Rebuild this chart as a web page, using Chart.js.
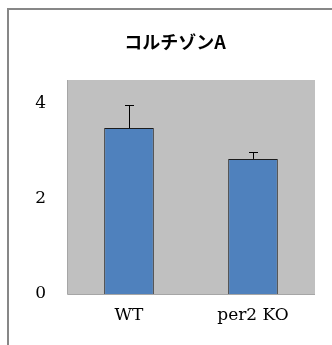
<!DOCTYPE html>
<html lang="ja">
<head>
    <meta charset="UTF-8">
    <title>コルチゾンA</title>
    <style>
        body {
            margin: 0;
            background-color: #ffffff;
        }
        .marco {
            position: absolute;
            left: 0;
            top: 0;
            width: 332px;
            height: 345px;
        }
        .borde {
            position: absolute;
            left: 7px;
            top: 8px;
            width: 325px;
            height: 337px;
            border-top: 2px solid #878787;
            border-left: 2px solid #878787;
        }
        canvas {
            position: absolute;
            left: 0;
            top: 0;
        }
    </style>
    <script src="https://cdn.jsdelivr.net/npm/chart.js"></script>
</head>
<body>
    <div class="marco">
        <div class="borde"></div>
        <canvas id="grafico" width="332" height="345"></canvas>
    </div>
    <script>
        // datos
        const categorias = ['WT', 'per2 KO'];
        const valores = [3.49, 2.84];
        const errores = [0.49, 0.15];
        const titulo = 'コルチゾンA';

        const serif = '"DejaVu Serif", "Noto Sans CJK JP", serif';

        // fondo gris del area del grafico
        const fondoPlugin = {
            id: 'fondo',
            beforeDraw(chart) {
                const { ctx, chartArea } = chart;
                ctx.save();
                ctx.fillStyle = '#c0c0c0';
                ctx.fillRect(chartArea.left, chartArea.top,
                    chartArea.right - chartArea.left, chartArea.bottom - chartArea.top);
                ctx.strokeStyle = '#a6a6a6';
                ctx.lineWidth = 1;
                ctx.beginPath();
                ctx.moveTo(chartArea.left + 0.5, chartArea.top);
                ctx.lineTo(chartArea.left + 0.5, chartArea.bottom + 0.5);
                ctx.lineTo(chartArea.right, chartArea.bottom + 0.5);
                ctx.stroke();
                ctx.restore();
            }
        };

        // barras de error (solo hacia arriba)
        const errorPlugin = {
            id: 'errores',
            afterDatasetsDraw(chart) {
                const { ctx, scales } = chart;
                ctx.save();
                ctx.strokeStyle = '#000000';
                ctx.lineWidth = 1;
                valores.forEach((v, i) => {
                    const x = Math.round(scales.x.getPixelForValue(i)) + 0.5;
                    const y0 = scales.y.getPixelForValue(v);
                    const y1 = Math.round(scales.y.getPixelForValue(v + errores[i])) + 0.5;
                    ctx.beginPath();
                    ctx.moveTo(x, y0);
                    ctx.lineTo(x, y1);
                    ctx.moveTo(x - 4.5, y1);
                    ctx.lineTo(x + 4.5, y1);
                    ctx.stroke();
                });
                ctx.restore();
            }
        };

        // titulo
        const tituloPlugin = {
            id: 'titulo',
            afterDraw(chart) {
                const { ctx } = chart;
                ctx.save();
                ctx.fillStyle = '#000000';
                ctx.font = 'bold 18px "Noto Sans CJK JP", sans-serif';
                ctx.textAlign = 'center';
                ctx.textBaseline = 'middle';
                ctx.fillText(titulo, 175, 42);
                ctx.restore();
            }
        };

        new Chart(document.getElementById('grafico'), {
            type: 'bar',
            data: {
                labels: categorias,
                datasets: [{
                    data: valores,
                    backgroundColor: '#4f81bd',
                    borderColor: '#1c1c1c',
                    borderWidth: 1,
                    barPercentage: 0.4,
                    categoryPercentage: 1.0
                }]
            },
            options: {
                responsive: false,
                animation: false,
                layout: {
                    padding: { top: 80, right: 17, bottom: 0, left: 0 }
                },
                plugins: {
                    legend: { display: false },
                    tooltip: { enabled: false }
                },
                scales: {
                    x: {
                        grid: { display: false, drawTicks: false },
                        border: { display: false },
                        ticks: {
                            color: '#000000',
                            padding: 11,
                            font: { family: serif, size: 17 }
                        },
                        afterFit(scale) { scale.height = 51; }
                    },
                    y: {
                        min: 0,
                        max: 4.5,
                        grid: { display: false, drawTicks: false },
                        border: { display: false },
                        ticks: {
                            stepSize: 2,
                            includeBounds: false,
                            color: '#000000',
                            padding: 21,
                            font: { family: serif, size: 17 }
                        },
                        afterFit(scale) { scale.width = 67; }
                    }
                }
            },
            plugins: [fondoPlugin, errorPlugin, tituloPlugin]
        });
    </script>
</body>
</html>
